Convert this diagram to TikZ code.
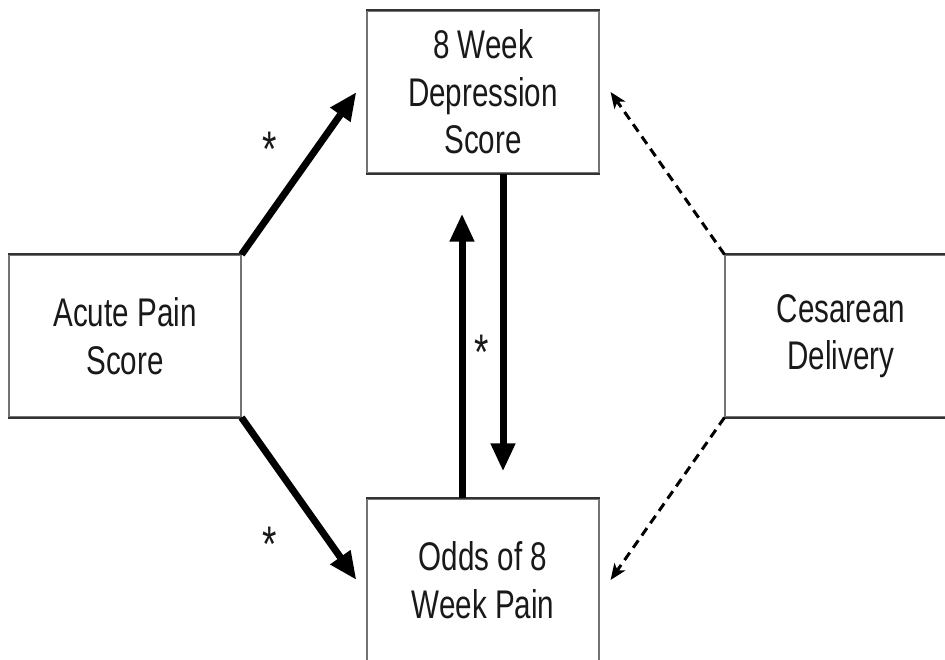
\documentclass[tikz,border=0pt]{standalone}
\usepackage{fontspec}
\setmainfont[FakeStretch=0.74]{Liberation Sans}
\usetikzlibrary{arrows.meta}
\begin{document}
\begin{tikzpicture}[x=1pt,y=-1pt,
  box/.style={draw=black!55, line width=1.1pt, rectangle, minimum width=232pt, minimum height=162pt,
    inner sep=0pt, align=center, text=black!90, font=\fontsize{40}{47.5}\selectfont},
  edge/.style={draw=black!80, line width=2pt},
  strong/.style={line width=7pt, -{Triangle[length=28pt,width=23pt]}},
  weak/.style={line width=3pt, dash pattern=on 9pt off 6pt, -{Stealth[length=16pt,width=13pt,inset=4pt]}},
  star/.style={anchor=base, inner sep=0pt, text=black!90, font=\fontsize{50}{50}\selectfont}]
\useasboundingbox (0,0) rectangle (945,659);
\clip (0,0) rectangle (945,659);
\node[box] (dep) at (483,92) {8 Week\\Depression\\Score};
\node[box] (acute) at (125,336) {Acute Pain\\Score};
\node[box] (ces) at (841,336) {Cesarean\\Delivery};
\node[box] (odds) at (483,580) {Odds of 8\\Week Pain};
\foreach \n in {dep,acute,ces,odds}{
  \draw[edge] (\n.north west) -- (\n.north east);
  \draw[edge] (\n.south west) -- (\n.south east);
}
\draw[strong] (acute.north east) -- ([xshift=-10pt]dep.west);
\draw[strong] (acute.south east) -- ([xshift=-10pt]odds.west);
\draw[strong] ([xshift=20pt]dep.south) -- ([xshift=20pt,yshift=27pt]odds.north);
\draw[strong] ([xshift=-21pt]odds.north) -- ([xshift=-21pt,yshift=-40pt]dep.south);
\draw[weak] (ces.north west) -- ([xshift=11pt]dep.east);
\draw[weak] (ces.south west) -- ([xshift=11pt]odds.east);
\node[star] (s1) at (270,166) {*};
\node[star] (s2) at (270,561) {*};
\node[star] (s3) at (482,369) {*};
\end{tikzpicture}
\end{document}
